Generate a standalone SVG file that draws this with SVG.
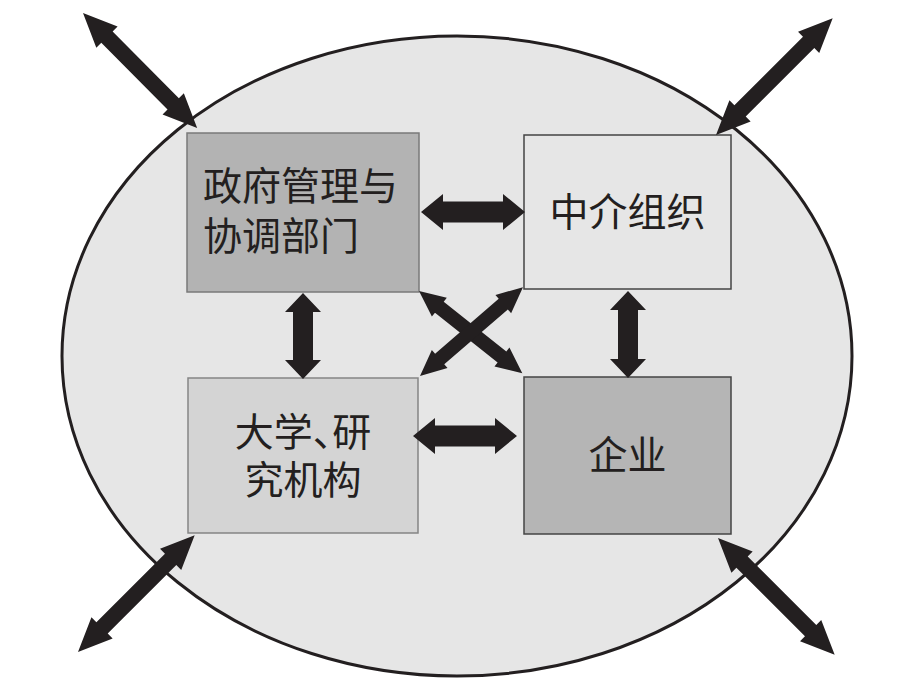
<svg xmlns="http://www.w3.org/2000/svg" width="916" height="694" viewBox="0 0 916 694">
<style>
.lbl{font-family:"Noto Sans CJK SC","Noto Sans CJK TC",sans-serif;font-size:39px;fill:#231f20}
.arr{fill:#231f20}
.c{text-anchor:middle}
.halt{font-feature-settings:"halt" 1}
</style>
<rect width="916" height="694" fill="#ffffff"/>
<ellipse cx="457" cy="356" rx="395" ry="320" fill="#e6e6e6" stroke="#231f20" stroke-width="3"/>
<g id="gov">
<rect x="187" y="133" width="232" height="159" fill="#b3b3b3" stroke="#7a7a7a" stroke-width="1.5"/>
<text class="lbl" x="203" y="200">政府管理与</text>
<text class="lbl" x="203" y="250">协调部门</text>
</g>
<g id="agency">
<rect x="524" y="135" width="207" height="154" fill="#e6e6e6" stroke="#444444" stroke-width="1.5"/>
<text class="lbl c" x="627.5" y="226">中介组织</text>
</g>
<g id="univ">
<rect x="188" y="378" width="230" height="155" fill="#d4d4d4" stroke="#858585" stroke-width="1.5"/>
<text class="lbl c halt" x="303" y="446">大学、研</text>
<text class="lbl c" x="303" y="494">究机构</text>
</g>
<g id="enterprise">
<rect x="524" y="377" width="207" height="157" fill="#b5b5b5" stroke="#444444" stroke-width="1.5"/>
<text class="lbl c" x="627.5" y="469">企业</text>
</g>
<g id="connectors">
<path class="arr" d="M421,212 L443,194 L443,201.5 L503,201.5 L503,194 L525,212 L503,230 L503,222.5 L443,222.5 L443,230 Z"/>
<path class="arr" d="M413,436 L435,418 L435,425.5 L495,425.5 L495,418 L517,436 L495,454 L495,446.5 L435,446.5 L435,454 Z"/>
<path class="arr" d="M303,293 L321,312 L313,312 L313,360 L321,360 L303,379 L285,360 L293,360 L293,312 L285,312 Z"/>
<path class="arr" d="M628,291 L646,310 L638,310 L638,359 L646,359 L628,378 L610,359 L618,359 L618,310 L610,310 Z"/>
<path class="arr" transform="translate(419,291) rotate(38.5)" d="M0,0 L26,-12 L26,-7 L106,-7 L106,-12 L132,0 L106,12 L106,7 L26,7 L26,12 Z"/>
<path class="arr" transform="translate(420,376) rotate(-40.8)" d="M0,0 L26,-12 L26,-7 L110,-7 L110,-12 L136,0 L110,12 L110,7 L26,7 L26,12 Z"/>
<path class="arr" transform="translate(83,13) rotate(45.2)" d="M0,0 L34,-15 L34,-8 L128,-8 L128,-15 L162,0 L128,15 L128,8 L34,8 L34,15 Z"/>
<path class="arr" transform="translate(716,135) rotate(-45)" d="M0,0 L34,-15 L34,-8 L131,-8 L131,-15 L165,0 L131,15 L131,8 L34,8 L34,15 Z"/>
<path class="arr" transform="translate(78,652) rotate(-45)" d="M0,0 L34,-15 L34,-8 L131,-8 L131,-15 L165,0 L131,15 L131,8 L34,8 L34,15 Z"/>
<path class="arr" transform="translate(718,538) rotate(45)" d="M0,0 L34,-15 L34,-8 L131,-8 L131,-15 L165,0 L131,15 L131,8 L34,8 L34,15 Z"/>
</g>
</svg>
